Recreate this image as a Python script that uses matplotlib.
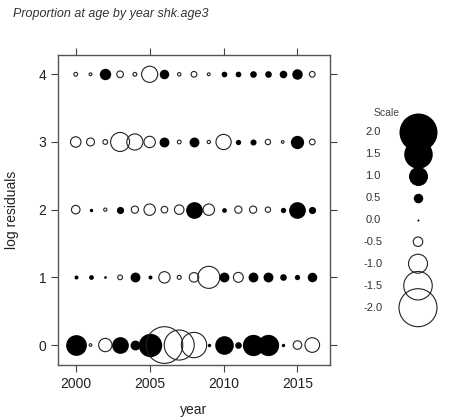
import numpy as np
import matplotlib
matplotlib.use("Agg")
import matplotlib.pyplot as plt

plt.rcParams["font.family"] = ["Liberation Sans", "DejaVu Sans"]

years = list(range(2000, 2017))
ages = [0, 1, 2, 3, 4]

# log residuals per age (rows) and year (columns); >0 filled, <0 open
resid_age0 = [1.09, -0.14, -0.70, 0.88, 0.52, 1.23, -1.93, -1.58, -1.33, 0.18, 0.98, 0.35, 1.12, 1.12, 0.18, -0.45, -0.77]
resid_age1 = [0.21, 0.25, 0.14, -0.25, 0.52, 0.21, -0.60, -0.21, -0.50, -1.16, 0.52, -0.52, 0.52, 0.52, 0.35, 0.28, 0.50]
resid_age2 = [-0.45, 0.18, -0.17, 0.38, -0.38, -0.60, -0.35, -0.50, 0.88, -0.60, 0.25, -0.38, -0.38, -0.28, 0.28, 0.88, 0.38]
resid_age3 = [-0.55, -0.42, -0.25, -1.00, -0.85, -0.60, 0.52, -0.20, 0.52, -0.17, -0.80, 0.28, 0.32, -0.28, -0.14, 0.70, -0.30]
resid_age4 = [-0.20, -0.15, 0.60, -0.35, -0.20, -0.85, 0.50, -0.18, -0.30, -0.15, 0.30, 0.30, 0.35, 0.35, 0.40, 0.55, -0.30]
resid = [resid_age0, resid_age1, resid_age2, resid_age3, resid_age4]

scale_values = [2.0, 1.5, 1.0, 0.5, 0.0, -0.5, -1.0, -1.5, -2.0]


def bubble_size(v):
    # diameter in pixels -> marker area in points^2 (dpi 100)
    d = max(19 * abs(v), 2.0)
    return (d * 0.72) ** 2


fig = plt.figure(figsize=(4.6, 4.19), dpi=100)
ax = fig.add_axes([58 / 460, 1 - 365 / 419, 272 / 460, 310 / 419])

for age, row in zip(ages, resid):
    for yr, v in zip(years, row):
        if v >= 0:
            ax.scatter(yr, age, s=bubble_size(v), color="black", linewidths=0, zorder=3)
        else:
            ax.scatter(yr, age, s=bubble_size(v), facecolors="none",
                       edgecolors="#222222", linewidths=0.8, zorder=3)

ax.set_xlim(1998.8, 2017.2)
ax.set_ylim(-0.295, 4.285)
ax.set_xticks([2000, 2005, 2010, 2015])
ax.set_yticks(ages)
ax.tick_params(direction="out", length=5, width=0.8, color="#444444",
               labelsize=10, labelcolor="#222222",
               top=True, right=True, labeltop=False, labelright=False)
for sp in ax.spines.values():
    sp.set_color("#555555")
    sp.set_linewidth(1.0)
ax.set_xlabel("year", fontsize=10, color="#222222", labelpad=9)
ax.set_ylabel("log residuals", fontsize=10, color="#222222", labelpad=14)

fig.text(13 / 460, 1 - 14 / 419, "Proportion at age by year shk.age3",
         fontsize=9, style="italic", color="#333333", va="center", ha="left")

# scale key
lax = fig.add_axes([345 / 460, 1 - 330 / 419, 105 / 460, 230 / 419])
lax.set_xlim(345, 450)
lax.set_ylim(330, 100)
lax.axis("off")
lax.text(387, 113, "Scale", fontsize=7.5, color="#444444", ha="center", va="center")
for i, v in enumerate(scale_values):
    yy = 131.7 + 22 * i
    lax.text(373, yy, f"{v:.1f}", fontsize=8, color="#333333", ha="center", va="center")
    if v >= 0:
        lax.scatter(418, yy, s=bubble_size(v), color="black", linewidths=0, zorder=3)
    else:
        lax.scatter(418, yy, s=bubble_size(v), facecolors="none",
                    edgecolors="#222222", linewidths=0.8, zorder=3)

fig.savefig("out.png", dpi=100)
